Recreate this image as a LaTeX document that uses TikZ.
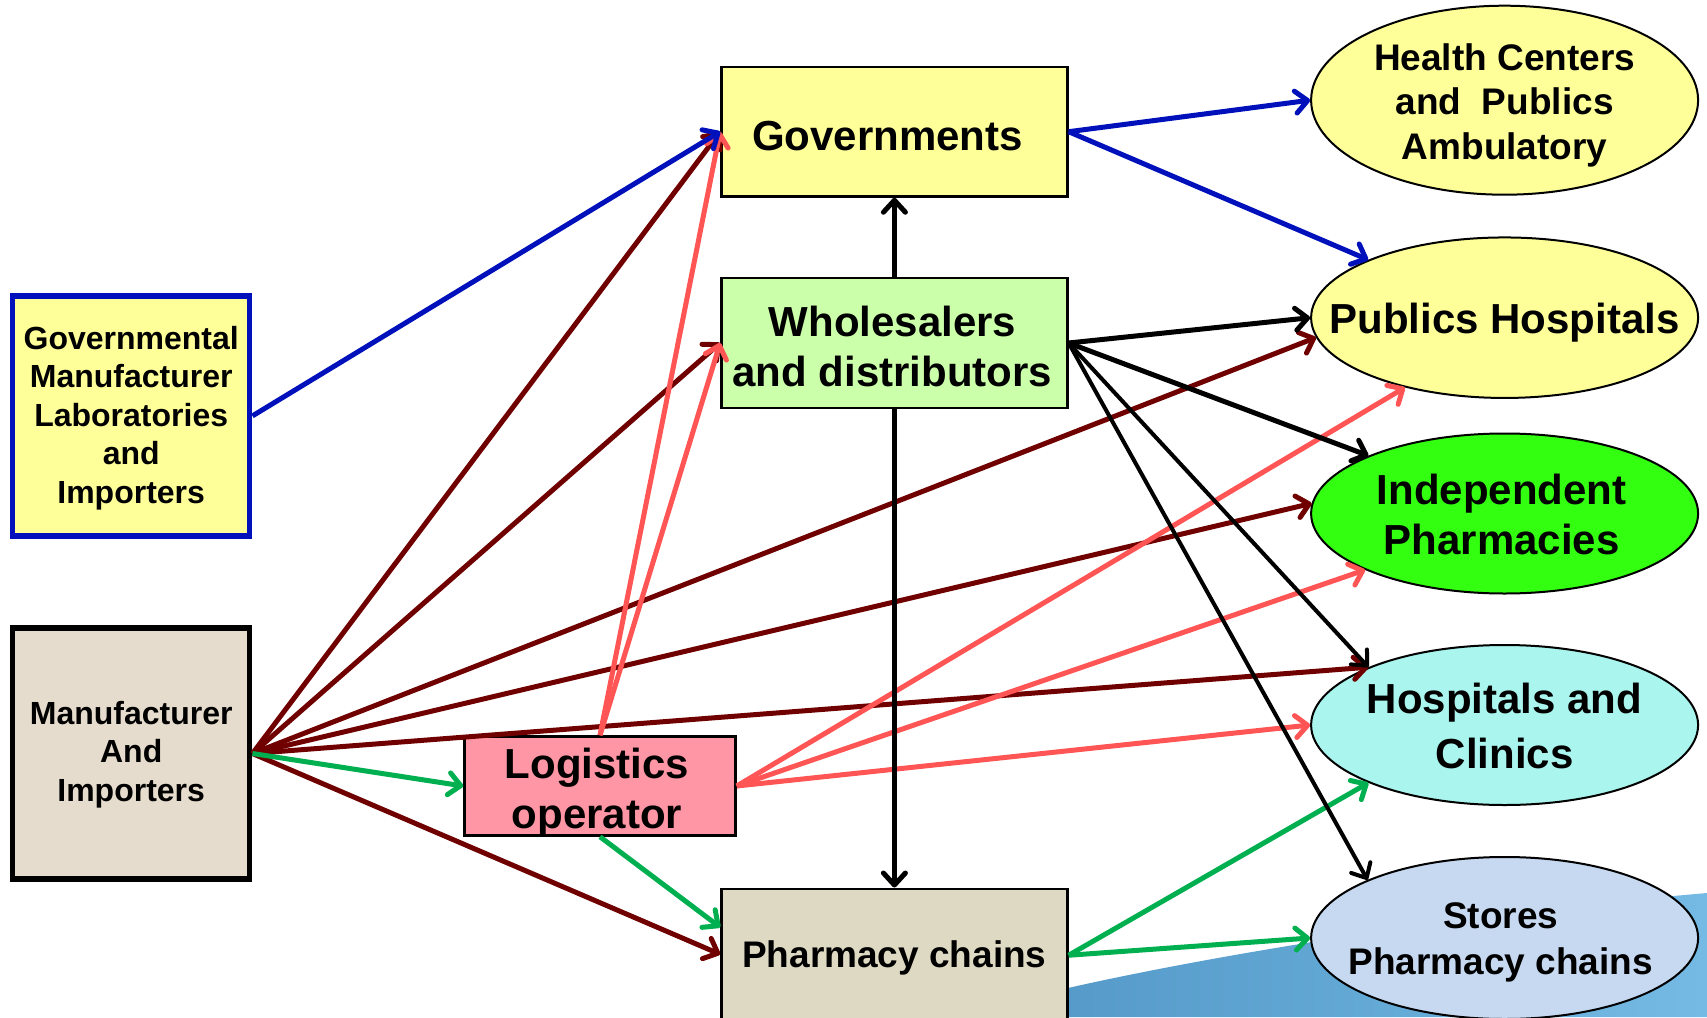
\documentclass[tikz,border=0pt]{standalone}
\usepackage{fontspec}
\setmainfont{Liberation Sans}
\usetikzlibrary{arrows.meta,shapes.geometric,calc}
\definecolor{yel}{HTML}{FFFF99}
\definecolor{lgreen}{HTML}{CCFFAA}
\definecolor{pinkf}{HTML}{FF96A5}
\definecolor{beige}{HTML}{E6DCCD}
\definecolor{tan}{HTML}{DDD9C3}
\definecolor{brightg}{HTML}{33FF11}
\definecolor{lcyan}{HTML}{AAF5EE}
\definecolor{lblue}{HTML}{C6D9F1}
\definecolor{darkblue}{HTML}{0011BB}
\definecolor{darkred}{HTML}{700000}
\definecolor{redl}{HTML}{FF5555}
\definecolor{greenl}{HTML}{00B050}
\definecolor{seaL}{HTML}{5297C6}
\definecolor{seaR}{HTML}{74BAE4}
\newcommand{\fsz}[2]{\fontsize{#1}{#2}\selectfont}
\begin{document}
\begin{tikzpicture}[x=1pt,y=-1pt,
  box/.style={draw=black,line width=2.5pt,inner sep=0pt},
  thickbox/.style={line width=5.5pt,inner sep=0pt,minimum width=237pt},
  ell/.style={ellipse,draw=black,line width=2pt,minimum width=387pt,inner sep=0pt},
  txt/.style={inner sep=0pt,align=center,font=\bfseries\fsz{42}{50}},
  txts/.style={inner sep=0pt,align=center,font=\bfseries\fsz{32}{38.5}},
  arr/.style={line width=5pt,-{Straight Barb[length=12pt,width=22pt,round]}},
  bluearr/.style={arr,draw=darkblue},
  redarr/.style={arr,draw=redl},
  drarr/.style={arr,draw=darkred},
  grarr/.style={arr,draw=greenl},
  blkarr/.style={arr,draw=black},
  blkthin/.style={arr,draw=black,line width=4pt}]
\useasboundingbox (0,0) rectangle (1707,1017);
% background sea shape
\shade[left color=seaL,right color=seaR] (1000,1000) -- (1068,988) .. controls (1200,958) and (1450,915) .. (1707,893) -- (1707,1017) -- (1000,1017) -- cycle;

% boxes
\node[thickbox,draw=darkblue,fill=yel,minimum height=240pt] (govl) at (131.2,415.9) {};
\node[txts] (govlt) at ([yshift=-2pt]govl) {Governmental\\Manufacturer\\Laboratories\\and\\Importers};
\node[thickbox,draw=black,fill=beige,minimum height=251pt] (manu) at (131.2,753.5) {};
\node[txts] (manut) at ([yshift=-1pt]manu) {Manufacturer\\And\\Importers};
\node[box,fill=yel,minimum width=346pt,minimum height=129.6pt] (gov) at (894.4,131.7) {};
\node[txt] (govt) at ([yshift=-4.5pt,xshift=-7pt]gov) {Governments};
\node[box,fill=lgreen,minimum width=346pt,minimum height=129.7pt] (whole) at (894.4,343) {};
\node[txt] (wholet) at ([yshift=-3pt,xshift=-2pt]whole) {Wholesalers\\and distributors};
\node[box,fill=pinkf,minimum width=271pt,minimum height=99pt] (logi) at (600,786) {};
\node[txt] (logit) at ([yshift=-6.5pt,xshift=-3pt]logi) {Logistics\\operator};
\node[box,fill=tan,minimum width=346pt,minimum height=143pt,anchor=north] (pc) at (894.4,887.5) {};
\node[txt,font=\bfseries\fsz{37}{44}] (pct) at ([yshift=2pt]pc) {Pharmacy chains};

% ellipses
\node[ell,fill=yel,minimum height=189pt] (hc) at (1504.6,100.2) {};
\node[txt,font=\bfseries\fsz{37}{44.5}] (hct) at ([yshift=-5pt]hc) {Health Centers\\and~ Publics\\Ambulatory};
\node[ell,fill=yel,minimum height=160.5pt] (ph) at (1504.6,317.7) {};
\node[txt] (pht) at ([yshift=-5pt]ph) {Publics Hospitals};
\node[ell,fill=brightg,minimum height=160pt] (ip) at (1504.6,513.5) {};
\node[txt] (ipt) at ([yshift=-1pt,xshift=-3pt]ip) {Independent\\Pharmacies};
\node[ell,fill=lcyan,minimum height=160pt] (hosp) at (1504.6,725) {};
\node[txt,font=\bfseries\fsz{42}{55.5}] (hospt) at ([yshift=-1pt]hosp) {Hospitals and\\Clinics};
\node[ell,fill=lblue,minimum height=162pt] (st) at (1504.6,938) {};
\node[txt,font=\bfseries\fsz{37}{46}] (stt) at ([yshift=-4pt,xshift=-4pt]st) {Stores\\Pharmacy chains};

% dark red arrows from manufacturer
\draw[drarr] (manu.east) -- (gov.west);
\draw[drarr] (manu.east) -- (whole.west);
\draw[drarr] (manu.east) -- (ph.186);
\draw[drarr] (manu.east) -- (ip.177);
\draw[drarr] (manu.east) -- (hosp.157);
\draw[drarr] (manu.east) -- ([yshift=6pt]pc.west);

% red arrows from logistics
\draw[redarr] (logi.north) -- (gov.west);
\draw[redarr] (logi.north) -- (whole.west);
\draw[redarr] (logi.east) -- (ph.215);
\draw[redarr] (logi.east) -- (ip.202);
\draw[redarr] (logi.east) -- (hosp.west);

% green arrows
\draw[grarr] (manu.east) -- (logi.west);
\draw[grarr] (logi.south) -- ([yshift=33pt]pc.west);
\draw[grarr] ([yshift=5pt]pc.east) -- (hosp.203);
\draw[grarr] ([yshift=5pt]pc.east) -- (st.west);

% blue arrows
\draw[bluearr] (govl.east) -- (gov.west);
\draw[bluearr] (gov.east) -- (hc.west);
\draw[bluearr] (gov.east) -- (ph.157);

% black arrows from wholesalers
\draw[blkarr] (whole.north) -- (gov.south);
\draw[blkarr] (whole.south) -- (pc.north);
\draw[blkarr] (whole.east) -- (ph.west);
\draw[blkarr] (whole.east) -- (ip.157);
\draw[blkthin] (whole.east) -- (hosp.157);
\draw[blkthin] (whole.east) -- (st.157);
\end{tikzpicture}
\end{document}
